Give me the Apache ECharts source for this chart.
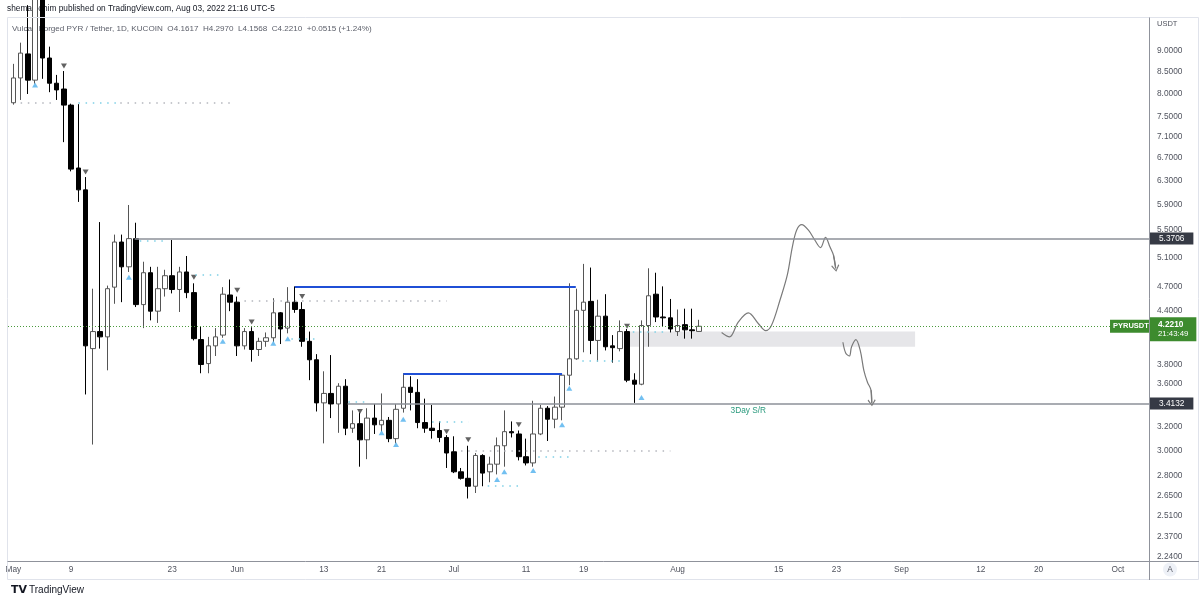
<!DOCTYPE html>
<html>
<head>
<meta charset="utf-8">
<title>PYRUSDT 1D</title>
<script src="https://cdn.jsdelivr.net/npm/echarts@6/dist/echarts.min.js"></script>
<style>
  html, body { margin: 0; padding: 0; background: #fff; }
  #chart { width: 1200px; height: 604px; }
</style>
</head>
<body>
<div id="chart"></div>
<script>
const FONT = "'Liberation Sans', sans-serif";
const FS = 8.3;
const ln = Math.log;

// daily candles, index 0 = 2022-05-01
const opens = [7.80, 8.35, 8.92, 8.30, 10.6, 8.82, 8.23, 8.10, 7.75, 6.52,
  6.14, 3.97, 4.16, 4.10, 4.70, 5.32, 4.97, 5.37, 4.48, 4.89,
  4.40, 4.68, 4.85, 4.67, 4.90, 4.63, 4.07, 3.81, 4.00, 4.12,
  4.60, 4.51, 4.00, 4.16, 3.96, 4.05, 4.09, 4.38, 4.20, 4.51,
  4.42, 4.05, 3.85, 3.42, 3.51, 3.41, 3.58, 3.19, 3.23, 3.09,
  3.28, 3.22, 3.26, 3.10, 3.37, 3.57, 3.52, 3.24, 3.19, 3.17,
  3.11, 2.99, 2.83, 2.78, 2.72, 2.96, 2.83, 2.89, 3.04, 3.16,
  3.14, 2.95, 2.90, 3.14, 3.37, 3.27, 3.38, 3.69, 3.86, 4.41,
  4.52, 4.06, 4.34, 4.00, 3.97, 4.16, 3.64, 3.60, 4.23, 4.61,
  4.33, 4.32, 4.16, 4.24, 4.18, 4.1617];
const highs = [8.68, 9.20, 10.2, 11.2, 11.5, 9.10, 8.42, 8.51, 7.78, 7.77,
  6.36, 4.68, 5.62, 4.72, 5.43, 5.43, 5.89, 5.61, 5.04, 4.97,
  4.97, 4.93, 5.35, 4.97, 5.12, 4.75, 4.22, 4.10, 4.20, 4.70,
  4.80, 4.58, 4.20, 4.21, 4.09, 4.15, 4.56, 4.39, 4.70, 4.71,
  4.51, 4.16, 3.91, 3.73, 3.90, 3.61, 3.65, 3.35, 3.33, 3.37,
  3.41, 3.51, 3.29, 3.41, 3.71, 3.68, 3.65, 3.46, 3.40, 3.25,
  3.13, 3.12, 2.86, 3.04, 2.98, 2.97, 2.95, 3.11, 3.35, 3.25,
  3.17, 3.10, 3.44, 3.40, 3.39, 3.48, 3.71, 4.75, 4.68, 5.01,
  4.96, 4.54, 4.61, 4.12, 4.29, 4.19, 3.71, 4.29, 4.95, 4.89,
  4.71, 4.55, 4.42, 4.43, 4.43, 4.2970];
const lows = [7.76, 7.86, 7.99, 8.22, 8.33, 8.03, 7.86, 7.00, 6.46, 5.94,
  3.50, 3.05, 3.97, 3.74, 4.49, 4.51, 4.90, 4.45, 4.20, 4.29,
  4.26, 4.58, 4.62, 4.39, 4.56, 4.06, 3.71, 3.71, 3.89, 4.09,
  4.40, 3.89, 3.96, 3.83, 3.89, 3.99, 4.04, 4.02, 4.14, 4.38,
  3.99, 3.64, 3.34, 3.06, 3.28, 3.15, 3.13, 3.15, 2.87, 2.93,
  3.14, 3.16, 3.07, 3.06, 3.33, 3.35, 3.19, 3.15, 3.10, 3.07,
  2.86, 2.82, 2.77, 2.63, 2.67, 2.72, 2.75, 2.81, 2.87, 3.11,
  2.92, 2.88, 2.87, 3.13, 3.08, 3.19, 3.26, 3.59, 3.85, 3.93,
  3.91, 3.83, 3.95, 3.82, 3.94, 3.62, 3.42, 3.59, 3.99, 4.27,
  4.22, 4.15, 4.11, 4.08, 4.08, 4.1568];
const closes = [8.35, 8.94, 8.30, 10.6, 8.82, 8.23, 8.08, 7.75, 6.50, 6.14,
  4.00, 4.16, 4.10, 4.68, 5.32, 4.97, 5.37, 4.48, 4.89, 4.40,
  4.68, 4.85, 4.67, 4.90, 4.63, 4.08, 3.80, 4.00, 4.10, 4.61,
  4.51, 4.00, 4.16, 3.96, 4.05, 4.09, 4.38, 4.19, 4.51, 4.42,
  4.05, 3.85, 3.42, 3.51, 3.41, 3.58, 3.19, 3.23, 3.09, 3.28,
  3.22, 3.26, 3.10, 3.36, 3.57, 3.52, 3.24, 3.19, 3.17, 3.11,
  2.98, 2.83, 2.78, 2.72, 2.96, 2.82, 2.89, 3.04, 3.16, 3.15,
  2.95, 2.90, 3.14, 3.37, 3.27, 3.38, 3.69, 3.86, 4.41, 4.51,
  4.06, 4.34, 3.99, 3.98, 4.16, 3.64, 3.60, 4.23, 4.59, 4.33,
  4.32, 4.19, 4.23, 4.18, 4.17, 4.2210];

// axis ticks (x in days from May 1)
const xTickDays = [0, 8, 22, 31, 43, 51, 61, 71, 79, 92, 106, 114, 123, 134, 142, 153];
const xTickLabels = ['May', '9', '23', 'Jun', '13', '21', 'Jul', '11', '19', 'Aug', '15', '23', 'Sep', '12', '20', 'Oct'];
const yTickPrices = [9, 8.5, 8, 7.5, 7.1, 6.7, 6.3, 5.9, 5.5, 5.1, 4.7, 4.4, 3.8, 3.6, 3.2, 3.0, 2.8, 2.65, 2.51, 2.37, 2.24];

// drawings
const resistance = { from: 16.8, price: 5.3706 };
const support = { from: 46.3, price: 3.4132, text: '3Day S/R' };
const lastPrice = 4.2210;
const lastTime = '21:43:49';
const blueLines = [[39, 77.9, 4.71], [54, 76, 3.71]];
const zone = [85, 124.9, 3.99, 4.16];
const grayDots = [[1, 5.5, 7.80], [14.8, 30.3, 7.80], [32, 60, 4.53], [62, 91, 3.00]];
const cyanDots = [[9, 14.2, 7.80], [17.5, 21.4, 5.34], [25.2, 28.4, 4.86], [38.5, 42, 4.08],
  [46.4, 49.1, 3.43], [58, 63, 3.25], [65.7, 70.2, 2.72], [72.7, 77.1, 2.95],
  [78.8, 84, 3.84], [85.8, 90.5, 4.16]];
const fractalHighs = [[7, 8.63], [10, 6.45], [25, 4.83], [31, 4.66], [33, 4.27], [40, 4.58],
  [48, 3.34], [60, 3.16], [63, 3.09], [70, 3.22], [85, 4.22]];
const fractalLows = [[3, 8.19], [16, 4.83], [29, 4.05], [36, 4.03], [38, 4.08], [51, 3.15],
  [53, 3.05], [54, 3.27], [67, 2.77], [68, 2.83], [72, 2.84], [76, 3.22], [77, 3.56], [87, 3.47]];
const sketchUp = [[98.1, 4.15], [99.2, 4.10], [100.4, 4.27], [101.8, 4.38], [103.2, 4.25], [104.2, 4.17],
  [105.0, 4.23], [106.2, 4.54], [107.2, 4.86], [107.9, 5.25], [108.5, 5.50], [109.2, 5.58],
  [110.1, 5.50], [111.0, 5.35], [111.8, 5.24], [112.5, 5.39], [113.1, 5.25], [113.6, 5.13], [113.9, 4.95]];
const sketchDown = [[114.9, 4.04], [115.3, 3.92], [115.8, 3.89], [116.1, 3.99], [116.7, 4.07], [117.3, 3.95],
  [117.8, 3.74], [118.3, 3.62], [118.8, 3.54], [118.9, 3.42]];

const X_MIN = -0.75, X_MAX = 157.3;
const Y_BOTTOM = 2.215, Y_TOP = 9.845;

const candleData = opens.map((o, i) => [i, ln(o), ln(closes[i]), ln(lows[i]), ln(highs[i])]);
const toXY = arr => arr.map(p => [p[0], ln(p[1])]);

const hidden = { color: 'rgba(0,0,0,0)', width: 0, type: 'solid' };

const boxLabel = (text, bg) => ({
  show: true, position: 'end', distance: 1, formatter: text,
  backgroundColor: bg, color: '#fff', fontSize: FS, fontFamily: FONT,
  padding: [2, 9, 2, 9]
});

function hLine(x0, x1, price, lineStyle, label) {
  return [
    { coord: [x0, ln(price)], lineStyle: lineStyle, label: label || { show: false } },
    { coord: [x1, ln(price)] }
  ];
}

const dotStyle = c => ({ color: c, width: 1.5, type: [1.5, 5.7] });
const arrowHead = 'path://M5,0L10,8L9,9.5L5,2.5L1,9.5L0,8Z';

function arrowLine(path) {
  const a = path[path.length - 2], b = path[path.length - 1];
  return [
    { coord: [a[0], ln(a[1])], symbol: 'none' },
    { coord: [b[0], ln(b[1])], symbol: arrowHead, symbolSize: [8, 7] }
  ];
}

const chart = echarts.init(document.getElementById('chart'));

const option = {
  animation: false,
  backgroundColor: '#ffffff',
  grid: { left: 8, right: 51, top: 18, bottom: 43 },
  xAxis: {
    type: 'value', min: X_MIN, max: X_MAX,
    axisLine: { show: false }, axisTick: { show: false }, splitLine: { show: false },
    axisLabel: {
      customValues: xTickDays,
      formatter: v => xTickLabels[xTickDays.indexOf(Math.round(v))],
      color: '#50535e', fontSize: FS, fontFamily: FONT, margin: 5
    }
  },
  yAxis: {
    type: 'value', position: 'right', min: ln(Y_BOTTOM), max: ln(Y_TOP),
    axisLine: { show: false }, axisTick: { show: false }, splitLine: { show: false },
    axisLabel: {
      customValues: yTickPrices.map(ln),
      formatter: v => Math.exp(v).toFixed(4),
      color: '#50535e', fontSize: FS, fontFamily: FONT, margin: 8
    }
  },
  graphic: [
    { type: 'text', left: 7, top: 5, z: 0,
      style: { text: 'shemaelohim published on TradingView.com, Aug 03, 2022 21:16 UTC-5', fill: '#131722', fontSize: FS, fontFamily: FONT } },
    { type: 'text', left: 12, top: 24.5, z: 0,
      style: { text: 'Vulcan Forged PYR / Tether, 1D, KUCOIN  O4.1617  H4.2970  L4.1568  C4.2210  +0.0515 (+1.24%)', fill: '#5d606b', fontSize: 8.1, fontFamily: FONT } },
    { type: 'text', left: 1157, top: 20, z: 0,
      style: { text: 'USDT', fill: '#50535e', fontSize: 7.5, fontFamily: FONT } },
    { type: 'rect', z: 50, shape: { x: 7.5, y: 17.5, width: 1191, height: 562 },
      style: { fill: 'none', stroke: '#e0e3eb', lineWidth: 1 } },
    { type: 'line', z: 50, shape: { x1: 1149.5, y1: 17.5, x2: 1149.5, y2: 580 },
      style: { stroke: '#8f929b', lineWidth: 1 } },
    { type: 'line', z: 50, shape: { x1: 7.5, y1: 561.5, x2: 1199, y2: 561.5 },
      style: { stroke: '#8f929b', lineWidth: 1 } },
    { type: 'circle', z: 50, shape: { cx: 1170, cy: 569.5, r: 7 }, style: { fill: '#eef1f7' } },
    { type: 'text', z: 51, x: 1170, y: 569.5,
      style: { text: 'A', fill: '#50535e', fontSize: FS, fontFamily: FONT, align: 'center', verticalAlign: 'middle' } },
    { type: 'text', left: 11, top: 585, z: 0,
      style: { text: 'TV', fill: '#131722', fontSize: 11, fontWeight: 'bold', fontFamily: 'DejaVu Sans' } },
    { type: 'text', left: 29, top: 585.5, z: 0,
      style: { text: 'TradingView', fill: '#131722', fontSize: 10, fontFamily: FONT } }
  ],
  series: [
    {
      name: 'zone', type: 'line', data: [], z: 1, silent: true,
      markArea: {
        silent: true,
        itemStyle: { color: '#e6e6e9' },
        data: [[{ coord: [zone[0], ln(zone[3])] }, { coord: [zone[1], ln(zone[2])] }]]
      },
      markLine: {
        silent: true, symbol: ['none', 'none'], animation: false,
        data: grayDots.map(d => hLine(d[0], d[1], d[2], dotStyle('#b4b6bd')))
          .concat(cyanDots.map(d => hLine(d[0], d[1], d[2], dotStyle('#7fd0e6'))))
      }
    },
    {
      name: 'PYRUSDT', type: 'candlestick', z: 2,
      barWidth: 5,
      data: candleData,
      itemStyle: {
        color: '#ffffff', color0: '#000000',
        borderColor: '#555555', borderColor0: '#000000', borderWidth: 1
      },
      markLine: {
        silent: true, symbol: ['none', 'none'], animation: false,
        data: [
          hLine(resistance.from, X_MAX, resistance.price, { color: '#8d9099', width: 1.5, type: 'solid' },
            boxLabel(resistance.price.toFixed(4), '#363a45')),
          hLine(support.from, X_MAX, support.price, { color: '#8d9099', width: 1.5, type: 'solid' },
            { show: true, position: 'insideMiddleBottom', formatter: support.text, color: '#2a9a7d', fontSize: FS, fontFamily: FONT, distance: 3 }),
          hLine(X_MAX - 0.5, X_MAX, support.price, hidden,
            boxLabel(support.price.toFixed(4), '#363a45')),
          hLine(blueLines[0][0], blueLines[0][1], blueLines[0][2], { color: '#1f4fd6', width: 2, type: 'solid' }),
          hLine(blueLines[1][0], blueLines[1][1], blueLines[1][2], { color: '#1f4fd6', width: 2, type: 'solid' }),
          hLine(X_MIN, 151.9, lastPrice, { color: '#4a9a3c', width: 1, type: [1, 2] },
            { show: true, position: 'end', distance: 0, formatter: 'PYRUSDT', backgroundColor: '#3d8b2e',
              color: '#fff', fontSize: 7.5, fontWeight: 'bold', fontFamily: FONT, padding: [3, 3, 2, 3] }),
          hLine(X_MAX - 0.5, X_MAX, lastPrice, hidden,
            { show: true, position: 'end', distance: 1, offset: [0, 3], backgroundColor: '#3d8b2e', padding: [2, 8, 2, 8],
              formatter: '{p|' + lastPrice.toFixed(4) + '}\n{t|' + lastTime + '}',
              rich: {
                p: { color: '#fff', fontSize: FS, fontWeight: 'bold', fontFamily: FONT, lineHeight: 10 },
                t: { color: '#fff', fontSize: 7.8, fontFamily: FONT, lineHeight: 10 }
              } })
        ]
      }
    },
    {
      name: 'fractal high', type: 'scatter', z: 3, silent: true,
      symbol: 'triangle', symbolRotate: 180, symbolSize: [6, 5],
      itemStyle: { color: '#3b3b3b' },
      data: toXY(fractalHighs)
    },
    {
      name: 'fractal low', type: 'scatter', z: 3, silent: true,
      symbol: 'triangle', symbolSize: [6, 5],
      itemStyle: { color: '#4fb0ee' },
      data: toXY(fractalLows)
    },
    {
      name: 'sketch up', type: 'line', z: 4, silent: true, smooth: 0.35,
      showSymbol: false, symbol: 'none',
      lineStyle: { color: '#7a7a7a', width: 1.2 },
      data: toXY(sketchUp),
      markLine: {
        silent: true, animation: false, lineStyle: { color: '#7a7a7a', width: 1.2, type: 'solid' },
        label: { show: false }, data: [arrowLine(sketchUp)]
      }
    },
    {
      name: 'sketch down', type: 'line', z: 4, silent: true, smooth: 0.35,
      showSymbol: false, symbol: 'none',
      lineStyle: { color: '#7a7a7a', width: 1.2 },
      data: toXY(sketchDown),
      markLine: {
        silent: true, animation: false, lineStyle: { color: '#7a7a7a', width: 1.2, type: 'solid' },
        label: { show: false }, data: [arrowLine(sketchDown)]
      }
    }
  ]
};

chart.setOption(option);
</script>
</body>
</html>
